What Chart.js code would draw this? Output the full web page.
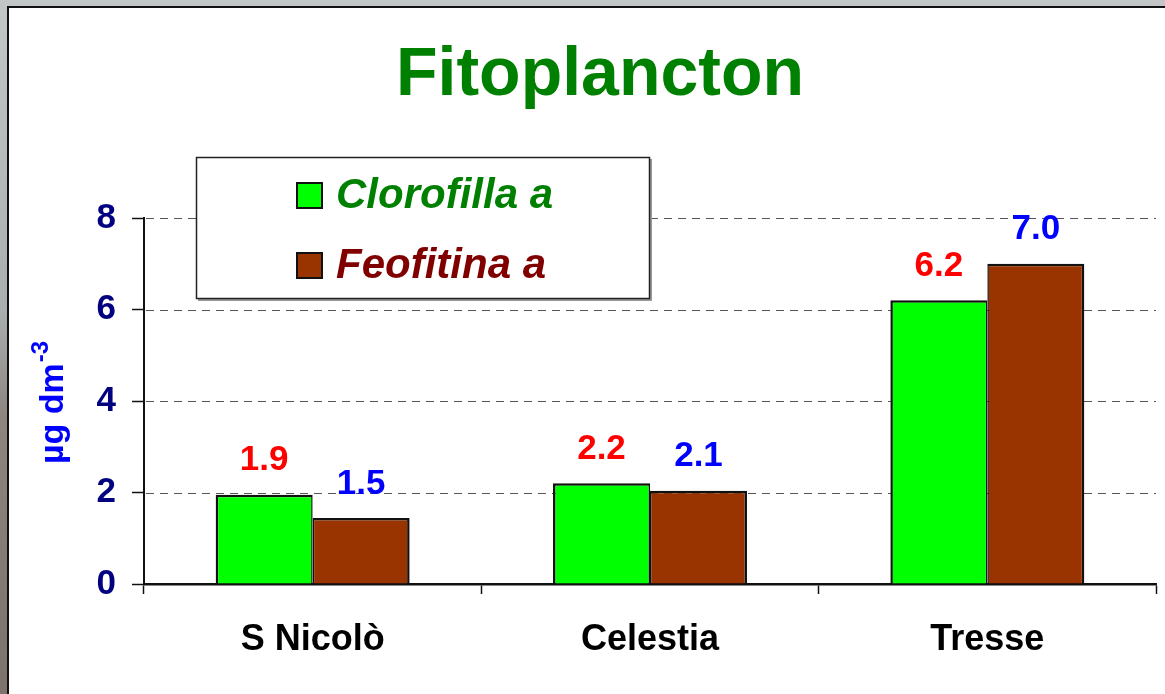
<!DOCTYPE html>
<html>
<head>
<meta charset="utf-8">
<script src="https://cdn.jsdelivr.net/npm/chart.js@4"></script>
<style>
  html, body { margin: 0; padding: 0; background: #b9bcbb; }
  canvas { display: block; }
</style>
</head>
<body>
<canvas id="c" width="1165" height="694"></canvas>
<script>
const categories = ['S Nicolò', 'Celestia', 'Tresse'];
const clorofilla = [1.95, 2.2, 6.2];
const feofitina = [1.44, 2.04, 7.0];
const clorofillaLabels = ['1.9', '2.2', '6.2'];
const feofitinaLabels = ['1.5', '2.1', '7.0'];
const seriesNames = ['Clorofilla a', 'Feofitina a'];
const yTicks = [0, 2, 4, 6, 8];

const FONT = '"Liberation Sans", Arial, sans-serif';

const backgroundPlugin = {
  id: 'bg',
  beforeDraw(chart) {
    const ctx = chart.ctx;
    const W = chart.width, H = chart.height;
    ctx.save();
    const g = ctx.createLinearGradient(0, 0, 0, H);
    g.addColorStop(0, '#c3c6c6');
    g.addColorStop(0.45, '#a9aeae');
    g.addColorStop(0.6, '#8d8580');
    g.addColorStop(1, '#7d726c');
    ctx.fillStyle = g;
    ctx.fillRect(0, 0, W, H);
    ctx.fillStyle = '#ffffff';
    ctx.fillRect(8, 7, W - 8, H - 7);
    ctx.strokeStyle = '#111';
    ctx.lineWidth = 2;
    ctx.beginPath();
    ctx.moveTo(8, H + 2);
    ctx.lineTo(8, 7);
    ctx.lineTo(W + 2, 7);
    ctx.stroke();
    // title
    ctx.fillStyle = '#008000';
    ctx.font = 'bold 68px ' + FONT;
    ctx.textAlign = 'center';
    ctx.textBaseline = 'alphabetic';
    ctx.fillText('Fitoplancton', 600, 95);
    // y axis title
    ctx.translate(63, 464);
    ctx.rotate(-Math.PI / 2);
    ctx.fillStyle = '#0000ff';
    ctx.font = 'bold 34px ' + FONT;
    ctx.textAlign = 'left';
    const t = 'µg dm';
    ctx.fillText(t, 0, 0);
    const w = ctx.measureText(t).width;
    ctx.font = 'bold 24px ' + FONT;
    ctx.fillText('-3', w + 1, -15);
    ctx.restore();
  },
  beforeDatasetsDraw(chart) {
    const ctx = chart.ctx;
    const y = chart.scales.y;
    const area = chart.chartArea;
    ctx.save();
    ctx.strokeStyle = '#555';
    ctx.lineWidth = 1.2;
    ctx.setLineDash([8, 6]);
    yTicks.forEach(v => {
      if (v === 0) return;
      const py = Math.round(y.getPixelForValue(v)) + 0.5;
      ctx.beginPath();
      ctx.moveTo(area.left + 2, py);
      ctx.lineTo(area.right, py);
      ctx.stroke();
    });
    ctx.restore();
  },
  afterDatasetsDraw(chart) {
    const ctx = chart.ctx;
    const labelSets = [clorofillaLabels, feofitinaLabels];
    const colors = ['#ff0000', '#0000ff'];
    ctx.save();
    ctx.font = 'bold 35px ' + FONT;
    ctx.textAlign = 'center';
    ctx.textBaseline = 'middle';
    chart.data.datasets.forEach((ds, i) => {
      const meta = chart.getDatasetMeta(i);
      ctx.fillStyle = colors[i];
      meta.data.forEach((el, j) => {
        ctx.fillText(labelSets[i][j], el.x, el.y - 34);
      });
    });
    ctx.restore();
  },
  afterDraw(chart) {
    const ctx = chart.ctx;
    ctx.save();
    // legend box with slight shadow
    ctx.fillStyle = '#999';
    ctx.fillRect(198, 159, 454, 142);
    ctx.fillStyle = '#fff';
    ctx.fillRect(196, 157, 454, 142);
    ctx.strokeStyle = '#222';
    ctx.lineWidth = 1.5;
    ctx.strokeRect(196.5, 157.5, 453, 141);
    const fills = chart.data.datasets.map(d => d.backgroundColor);
    const textColors = ['#008000', '#800000'];
    const ys = [195, 265];
    ctx.font = 'italic bold 42px ' + FONT;
    ctx.textBaseline = 'middle';
    ctx.textAlign = 'left';
    seriesNames.forEach((n, i) => {
      ctx.fillStyle = fills[i];
      ctx.fillRect(296, ys[i] - 13, 27, 27);
      ctx.lineWidth = 2;
      ctx.strokeStyle = '#111';
      ctx.strokeRect(297, ys[i] - 12, 25, 25);
      ctx.fillStyle = textColors[i];
      ctx.fillText(n, 336, ys[i] + 1);
    });
    ctx.restore();
  }
};

new Chart(document.getElementById('c'), {
  type: 'bar',
  data: {
    labels: categories,
    datasets: [
      {
        label: seriesNames[0],
        data: clorofilla,
        backgroundColor: '#00ff00',
        borderColor: '#111',
        borderWidth: { top: 2.5, left: 2.5, right: 1.5, bottom: 0 },
        borderSkipped: false,
        categoryPercentage: 0.575,
        barPercentage: 1.0
      },
      {
        label: seriesNames[1],
        data: feofitina,
        backgroundColor: '#993300',
        borderColor: '#111',
        borderWidth: { top: 2.5, left: 1.5, right: 2.5, bottom: 0 },
        borderSkipped: false,
        categoryPercentage: 0.575,
        barPercentage: 1.0
      }
    ]
  },
  options: {
    responsive: false,
    devicePixelRatio: 1,
    animation: false,
    layout: { padding: { top: 218, right: 9, bottom: 0, left: 0 } },
    plugins: {
      legend: { display: false },
      title: { display: false },
      tooltip: { enabled: false }
    },
    scales: {
      x: {
        afterFit(scale) { scale.height = 110; },
        grid: {
          offset: true,
          drawOnChartArea: false,
          tickLength: 10,
          tickColor: '#111',
          tickWidth: 1.5
        },
        border: { display: true, color: '#111', width: 2.5 },
        ticks: {
          color: '#000',
          padding: 24,
          font: { family: FONT, size: 36, weight: 'bold' }
        }
      },
      y: {
        min: 0,
        max: 8,
        afterFit(scale) { scale.width = 144; },
        afterBuildTicks(scale) { scale.ticks = yTicks.map(v => ({ value: v })); },
        grid: {
          drawOnChartArea: false,
          tickLength: 12,
          tickColor: '#111',
          tickWidth: 1.5
        },
        border: { display: true, color: '#111', width: 2 },
        ticks: {
          color: '#000080',
          padding: 16,
          font: { family: FONT, size: 35, weight: 'bold' }
        }
      }
    }
  },
  plugins: [backgroundPlugin]
});
</script>
</body>
</html>
